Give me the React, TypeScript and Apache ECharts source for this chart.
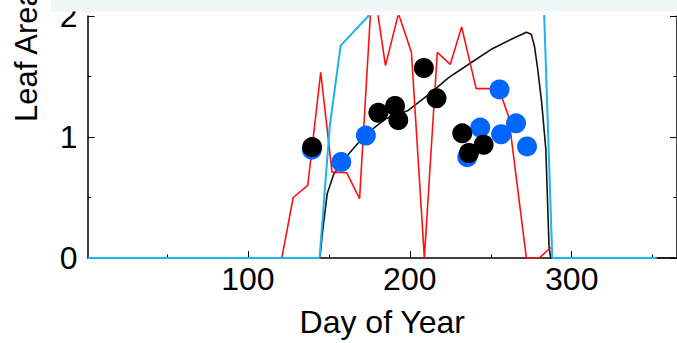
import React, { useEffect, useRef } from "react";
import * as echarts from "echarts";

const FONT = "Liberation Sans, Arial, Helvetica, sans-serif";

const xTickLabels = [100, 200, 300];
const xMinorTicks = [50, 150, 250, 350];

// Red line: measured LAI (day, value)
const redDays = [121, 128, 137, 145, 152, 161, 169, 177, 185, 193, 201, 209, 217, 225, 232, 241, 255, 261, 272, 280, 287];
const redVals = [0, 0.5, 0.6, 1.535, 0.71, 0.705, 0.49, 2.31, 1.59, 2.02, 1.7, 0, 1.7, 1.6, 1.91, 1.4, 1.4, 1.17, 0, 0, 0.087];

// Cyan line
const cyanDays = [1, 144.3, 150.6, 157.3, 174.5, 181, 200, 230, 260, 280, 288, 352.5];
const cyanVals = [0, 0, 1.09, 1.755, 2.0, 2.5, 3.0, 3.3, 3.3, 3.2, 0, 0];

// Black model line
const blackDays = [1, 144.5, 146, 147, 149, 153, 158, 162, 172.5, 185, 199, 212, 224, 238, 251, 263, 272, 275, 277, 279, 281.4, 284, 286, 287, 365];
const blackVals = [0, 0, 0.2, 0.31, 0.53, 0.69, 0.79, 0.855, 1.018, 1.15, 1.22, 1.355, 1.49, 1.616, 1.73, 1.81, 1.865, 1.85, 1.75, 1.56, 1.29, 0.9, 0.09, 0, 0];

// Blue observation dots
const blueDays = [139.5, 157.7, 172.9, 235.5, 243.5, 255.4, 256.4, 265.6, 272.4];
const blueVals = [0.895, 0.794, 1.012, 0.833, 1.078, 1.393, 1.023, 1.113, 0.922];

// Black observation dots
const dotDays = [139.7, 180.6, 190.9, 192.9, 208.7, 216.5, 232.4, 236.5, 245.6];
const dotVals = [0.917, 1.2, 1.257, 1.14, 1.57, 1.32, 1.03, 0.868, 0.936];

const pairs = (xs: number[], ys: number[]) => xs.map((x, i) => [x, ys[i]]);

export default function App() {
  const ref = useRef<HTMLDivElement>(null);
  useEffect(() => {
    if (!ref.current) return;
    const chart = echarts.init(ref.current, null, { renderer: "svg" });
    const gridPos = { left: 87.5, right: -3, top: 13, bottom: 85 };
    chart.setOption({
      animation: false,
      grid: [
        { ...gridPos, containLabel: false },
        { ...gridPos, containLabel: false },
      ],
      xAxis: [
        {
          type: "value",
          gridIndex: 0,
          min: 1,
          max: 365,
          axisLine: { show: true, lineStyle: { color: "#000", width: 1.5 } },
          axisTick: { show: true, inside: true, length: 7, customValues: xTickLabels, lineStyle: { color: "#000", width: 1 } },
          axisLabel: { customValues: xTickLabels, fontSize: 32, color: "#000", margin: 5, fontFamily: FONT },
          splitLine: { show: false },
          name: "Day of Year",
          nameLocation: "middle",
          nameGap: 48,
          nameTextStyle: { fontSize: 32, color: "#000", fontFamily: FONT },
        },
        {
          type: "value",
          gridIndex: 1,
          min: 1,
          max: 365,
          position: "bottom",
          axisLine: { show: false },
          axisTick: { show: true, inside: true, length: 3.5, customValues: xMinorTicks, lineStyle: { color: "#000", width: 1 } },
          axisLabel: { show: false },
          splitLine: { show: false },
        },
      ],
      yAxis: [
        {
          type: "value",
          gridIndex: 0,
          min: 0,
          max: 2,
          interval: 1,
          axisLine: { show: true, lineStyle: { color: "#000", width: 1.5 } },
          axisTick: { show: true, inside: true, length: 7, lineStyle: { color: "#000", width: 1 } },
          minorTick: { show: true, splitNumber: 2, length: 3.5, lineStyle: { color: "#000", width: 1 } },
          axisLabel: { fontSize: 32, color: "#000", margin: 10, fontFamily: FONT },
          splitLine: { show: false },
        },
        {
          type: "value",
          gridIndex: 0,
          position: "right",
          min: 0,
          max: 2,
          interval: 1,
          axisLine: { show: true, lineStyle: { color: "#000", width: 1.5 } },
          axisTick: { show: true, inside: true, length: 7, lineStyle: { color: "#000", width: 1 } },
          minorTick: { show: true, splitNumber: 2, length: 3.5, lineStyle: { color: "#000", width: 1 } },
          axisLabel: { show: false },
          splitLine: { show: false },
        },
        {
          type: "value",
          gridIndex: 1,
          min: 0,
          max: 2,
          show: false,
        },
      ],
      series: [
        {
          type: "line",
          xAxisIndex: 0,
          yAxisIndex: 0,
          data: pairs(blackDays, blackVals),
          showSymbol: false,
          symbol: "none",
          lineStyle: { color: "#111", width: 1.6 },
          clip: true,
          z: 2,
        },
        {
          type: "line",
          xAxisIndex: 0,
          yAxisIndex: 0,
          data: pairs(redDays, redVals),
          showSymbol: false,
          symbol: "none",
          lineStyle: { color: "#ff1010", width: 1.6 },
          clip: true,
          z: 3,
        },
        {
          type: "line",
          xAxisIndex: 0,
          yAxisIndex: 0,
          data: pairs(cyanDays, cyanVals),
          showSymbol: false,
          symbol: "none",
          lineStyle: { color: "#1ab4f0", width: 2 },
          clip: true,
          z: 4,
        },
        {
          type: "scatter",
          xAxisIndex: 0,
          yAxisIndex: 0,
          data: pairs(blueDays, blueVals),
          symbol: "circle",
          symbolSize: 20,
          itemStyle: { color: "#0066ff", opacity: 1 },
          z: 5,
        },
        {
          type: "scatter",
          xAxisIndex: 0,
          yAxisIndex: 0,
          data: pairs(dotDays, dotVals),
          symbol: "circle",
          symbolSize: 20,
          itemStyle: { color: "#000", opacity: 1 },
          z: 6,
        },
      ],
      graphic: [
        {
          type: "rect",
          z: 100,
          shape: { x: 51, y: 0, width: 640, height: 11.5 },
          style: { fill: "#eef8f7" },
        },
        {
          type: "text",
          z: 50,
          x: 26,
          y: 122,
          rotation: Math.PI / 2,
          style: {
            text: "Leaf Area Index",
            fontSize: 31,
            fontFamily: FONT,
            fill: "#000",
            align: "left",
            verticalAlign: "middle",
          },
        },
      ],
    });
    return () => chart.dispose();
  }, []);
  return (
    <div
      ref={ref}
      style={{ position: "fixed", left: 0, top: 0, width: 677, height: 343, background: "#fff" }}
    />
  );
}
